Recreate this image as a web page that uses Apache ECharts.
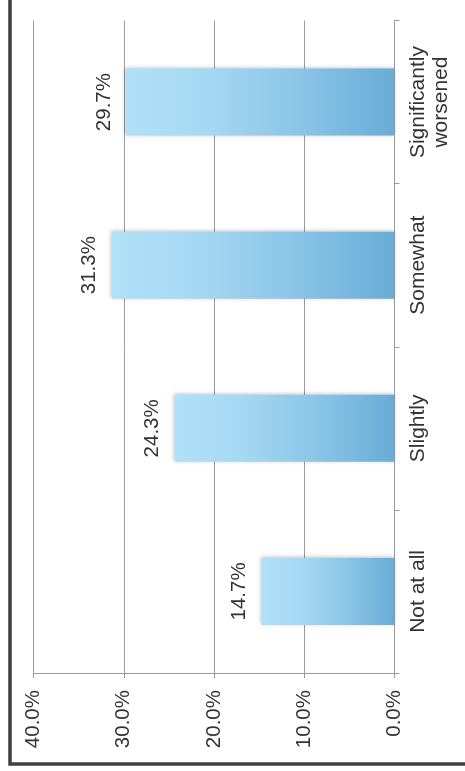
<!DOCTYPE html>
<html>
<head>
<meta charset="utf-8">
<script src="https://cdn.jsdelivr.net/npm/echarts@6/dist/echarts.min.js"></script>
<style>
  html, body { margin: 0; padding: 0; background: #ffffff; }
  #chart { width: 465px; height: 771px; }
</style>
</head>
<body>
<div id="chart"></div>
<script>
// Answer categories, bottom to top on the rotated chart
var categories = ['Not at all', 'Slightly', 'Somewhat', 'Significantly\nworsened'];
// Share of respondents per answer (%)
var shares = [14.7, 24.3, 31.3, 29.7];
// Value axis range
var axisMin = 0;
var axisMax = 40;
var axisStep = 10;

var FONT = '"Liberation Sans", Arial, sans-serif';
var AXIS_GRAY = '#9a9a9a';

var chart = echarts.init(document.getElementById('chart'), null, { renderer: 'canvas' });

chart.setOption({
  animation: false,
  backgroundColor: '#ffffff',
  grid: { left: 33.5, right: 70.5, top: 20.5, bottom: 98, containLabel: false },
  graphic: [{
    type: 'rect',
    shape: { x: 10, y: -20, width: 480, height: 784 },
    style: { fill: 'none', stroke: '#404040', lineWidth: 3.5 },
    z: 100
  }],
  xAxis: {
    type: 'value',
    position: 'bottom',
    inverse: true,
    min: axisMin,
    max: axisMax,
    interval: axisStep,
    axisLine: { show: true, lineStyle: { color: AXIS_GRAY, width: 1 } },
    axisTick: { show: true, length: 5, lineStyle: { color: AXIS_GRAY } },
    splitLine: { show: true, lineStyle: { color: AXIS_GRAY, width: 1 } },
    axisLabel: {
      rotate: 90,
      margin: 17,
      color: '#333333',
      fontFamily: FONT,
      fontSize: 20.5,
      formatter: function (v) { return v.toFixed(1) + '%'; }
    }
  },
  yAxis: {
    type: 'category',
    position: 'right',
    data: categories,
    axisLine: { show: true, onZero: false, lineStyle: { color: AXIS_GRAY, width: 1 } },
    axisTick: { show: true, length: 5, alignWithLabel: false, lineStyle: { color: AXIS_GRAY } },
    splitLine: { show: false },
    axisLabel: {
      rotate: 90,
      margin: 12,
      color: '#333333',
      fontFamily: FONT,
      fontSize: 21,
      lineHeight: 23
    }
  },
  series: [{
    type: 'bar',
    data: shares,
    barCategoryGap: '59%',
    itemStyle: {
      color: new echarts.graphic.LinearGradient(0, 0, 1, 0, [
        { offset: 0, color: '#b0e1f8' },
        { offset: 0.3, color: '#a5d8f3' },
        { offset: 0.65, color: '#8ac4e7' },
        { offset: 1, color: '#68acd6' }
      ]),
      shadowColor: 'rgba(0,0,0,0.25)',
      shadowBlur: 4,
      shadowOffsetX: -1,
      shadowOffsetY: -1
    },
    label: {
      show: true,
      position: 'left',
      distance: 12,
      rotate: 90,
      align: 'center',
      verticalAlign: 'bottom',
      color: '#333333',
      fontFamily: FONT,
      fontSize: 20.5,
      formatter: function (p) { return p.value.toFixed(1) + '%'; }
    }
  }]
});
</script>
</body>
</html>
